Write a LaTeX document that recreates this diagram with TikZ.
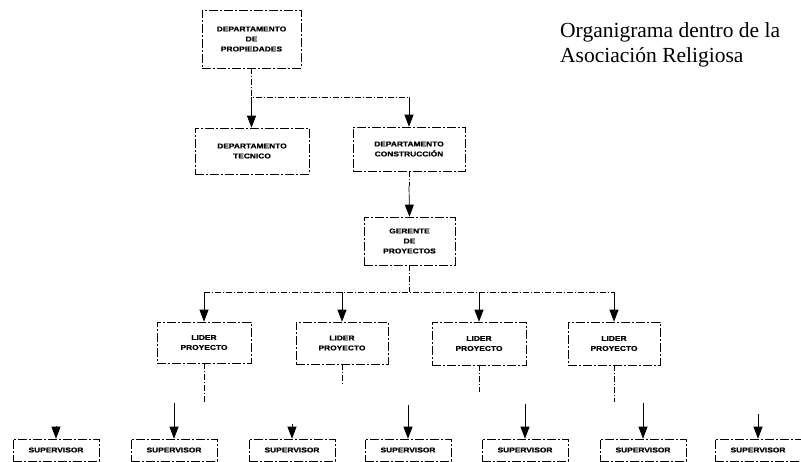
\documentclass[tikz,border=0pt]{standalone}
\usepackage{fontspec}
\setmainfont{Liberation Serif}
\newfontfamily\boxfont[FakeStretch=1.2,FakeBold=1]{Liberation Sans}
\usetikzlibrary{arrows.meta}
\begin{document}
\begin{tikzpicture}[x=1pt,y=-1pt,
  box/.style={draw, line width=0.6pt, dash pattern=on 9pt off 2pt on 2pt off 2pt,
    align=center, inner sep=0pt,
    font=\boxfont\bfseries\fontsize{7}{10}\selectfont},
  link/.style={line width=0.6pt, dash pattern=on 6pt off 2pt on 1pt off 2pt},
  arr/.style={line width=0.7pt, -{Triangle[width=9pt,length=12pt]}},
  title/.style={align=left, font=\fontsize{21.5}{25}\selectfont, inner sep=0pt}]
\useasboundingbox (0,0) rectangle (801,462);
% boxes
\node[box, minimum width=99pt, minimum height=58pt] (prop) at (251.5,39) {DEPARTAMENTO\\DE\\PROPIEDADES};
\node[box, minimum width=114pt, minimum height=46pt] (tec) at (252,151) {DEPARTAMENTO\\TECNICO};
\node[box, minimum width=112pt, minimum height=44pt] (cons) at (409,149) {DEPARTAMENTO\\CONSTRUCCIÓN};
\node[box, minimum width=91pt, minimum height=48pt] (ger) at (409.5,241) {GERENTE\\DE\\PROYECTOS};
\node[box, minimum width=94pt, minimum height=41pt] (l1) at (204,342.5) {LIDER\\PROYECTO};
\node[box, minimum width=92pt, minimum height=42pt] (l2) at (342,343) {LIDER\\PROYECTO};
\node[box, minimum width=94pt, minimum height=43pt] (l3) at (479,343.5) {LIDER\\PROYECTO};
\node[box, minimum width=92pt, minimum height=43pt] (l4) at (614,343.5) {LIDER\\PROYECTO};
\foreach \i/\x in {1/56,2/174,3/292,4/408,5/525,6/643,7/758}{
  \node[box, minimum width=86pt, minimum height=22pt] (s\i) at (\x,450) {SUPERVISOR};
}
% title (base anchor = baseline of the last line)
\node[title, anchor=base west] (t) at (560,63) {Organigrama dentro de la\\Asociación Religiosa};
% connectors
\coordinate (b1) at (251.5,97);
\coordinate (b2) at (409,97);
\draw[link] (prop.south) -- (b1) -- (b2);
\draw[arr] (b1) -- (tec.north -| b1);
\draw[arr] (b2) -- (cons.north);
\coordinate (c1) at (409,186);
\draw[link] (cons.south) -- (c1);
\draw[arr] (c1) -- (ger.north);
\coordinate (g1) at (409.5,292);
\coordinate (h1) at (204,292);
\coordinate (h2) at (342,292);
\coordinate (h3) at (479,292);
\coordinate (h4) at (614,292);
\draw[link] (ger.south) -- (g1);
\draw[link] (h1) -- (h4);
\draw[arr] (h1) -- (l1.north);
\draw[arr] (h2) -- (l2.north);
\draw[arr] (h3) -- (l3.north);
\draw[arr] (h4) -- (l4.north);
% stubs below leaders
\coordinate (d1) at (204,402);
\coordinate (d2) at (342,386);
\coordinate (d3) at (479,392);
\coordinate (d4) at (614,402);
\draw[link] (l1.south) -- (d1);
\draw[link] (l2.south) -- (d2);
\draw[link] (l3.south) -- (d3);
\draw[link] (l4.south) -- (d4);
% arrows into supervisors
\coordinate (u1) at (56,426);
\coordinate (u2) at (174,403);
\coordinate (u3) at (292,424);
\coordinate (u4) at (408,405);
\coordinate (u5) at (525,404);
\coordinate (u6) at (643,403);
\coordinate (u7) at (758,414);
\foreach \i in {1,...,7}{\draw[arr] (u\i) -- (s\i.north);}
\end{tikzpicture}
\end{document}
